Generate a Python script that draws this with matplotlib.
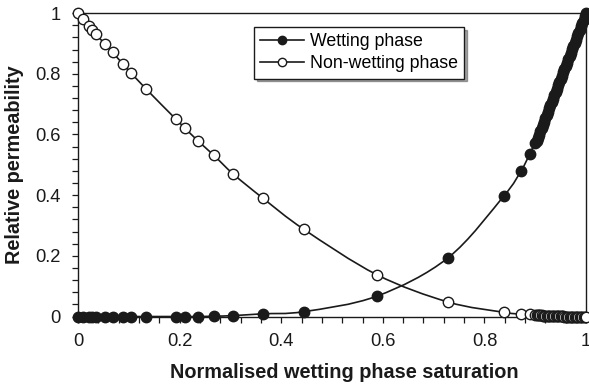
import matplotlib.pyplot as plt
from matplotlib.path import Path
from matplotlib.patches import PathPatch
from matplotlib.lines import Line2D
from matplotlib.ticker import MultipleLocator

plt.rcParams['font.family'] = ['Liberation Sans', 'DejaVu Sans']

# normalised wetting phase saturation (shared by both series)
sat = [0.0, 0.0105, 0.022, 0.028, 0.035, 0.053, 0.068, 0.089, 0.104, 0.134,
       0.193, 0.21, 0.236, 0.267, 0.306, 0.364, 0.444, 0.588, 0.728, 0.838,
       0.872, 0.889, 0.899,
       0.9025, 0.905, 0.9075, 0.91, 0.9125, 0.915, 0.9175, 0.92, 0.9225, 0.925,
       0.9275, 0.93, 0.9325, 0.935, 0.9375, 0.94, 0.9425, 0.945, 0.9475, 0.95,
       0.9525, 0.955, 0.9575, 0.96, 0.9625, 0.965, 0.9675, 0.97, 0.9725, 0.975,
       0.9775, 0.98, 0.9825, 0.985, 0.9875, 0.99, 0.9925, 0.995, 0.9975, 1.0]

kr_wet = [0.0, 0.0, 0.0, 0.0, 0.0, 0.0, 0.0, 0.0, 0.0, 0.0,
          0.0, 0.0, 0.0, 0.001, 0.003, 0.009, 0.016, 0.067, 0.193, 0.397,
          0.480, 0.535, 0.571,
          0.577, 0.588, 0.599, 0.610, 0.621, 0.632, 0.642, 0.653, 0.664, 0.675,
          0.686, 0.697, 0.707, 0.718, 0.729, 0.740, 0.751, 0.762, 0.772, 0.783,
          0.794, 0.805, 0.816, 0.826, 0.837, 0.848, 0.859, 0.870, 0.881, 0.891,
          0.902, 0.913, 0.924, 0.935, 0.946, 0.956, 0.967, 0.978, 0.989, 1.0]

kr_nonwet = [1.0, 0.98, 0.957, 0.944, 0.931, 0.898, 0.871, 0.831, 0.804, 0.75,
             0.65, 0.622, 0.579, 0.532, 0.469, 0.39, 0.288, 0.138, 0.048, 0.014,
             0.008, 0.007, 0.006,
             0.005, 0.005, 0.004, 0.004, 0.004, 0.003, 0.003, 0.003, 0.003, 0.002,
             0.002, 0.002, 0.002, 0.002, 0.001, 0.001, 0.001, 0.001, 0.001, 0.001,
             0.001, 0.001, 0.0, 0.0, 0.0, 0.0, 0.0, 0.0, 0.0, 0.0,
             0.0, 0.0, 0.0, 0.0, 0.0, 0.0, 0.0, 0.0, 0.0, 0.0]

ink = '#1a1a1a'


def smooth_path(xs, ys):
    # spreadsheet-style smoothed line: bezier segments through every point
    pts = list(zip(xs, ys))
    n = len(pts)
    verts = [pts[0]]
    codes = [Path.MOVETO]
    for i in range(n - 1):
        p0 = pts[max(i - 1, 0)]
        p1 = pts[i]
        p2 = pts[i + 1]
        p3 = pts[min(i + 2, n - 1)]
        c1 = (p1[0] + (p2[0] - p0[0]) / 6, p1[1] + (p2[1] - p0[1]) / 6)
        c2 = (p2[0] - (p3[0] - p1[0]) / 6, p2[1] - (p3[1] - p1[1]) / 6)
        verts += [c1, c2, p2]
        codes += [Path.CURVE4] * 3
    return Path(verts, codes)


fig = plt.figure(figsize=(5.89, 3.86), dpi=100)
ax = fig.add_axes([0.1324, 0.18, 0.8626, 0.786])

for ys in (kr_wet, kr_nonwet):
    ax.add_patch(PathPatch(smooth_path(sat, ys), facecolor='none',
                           edgecolor=ink, lw=1.2, zorder=2))

ax.plot(sat, kr_wet, linestyle='none', marker='o', ms=7.5, mfc=ink,
        mec=ink, mew=1.0, clip_on=False, zorder=3)
ax.plot(sat, kr_nonwet, linestyle='none', marker='o', ms=7.5, mfc='white',
        mec=ink, mew=1.0, clip_on=False, zorder=3)

ax.set_xlim(0, 1)
ax.set_ylim(0, 1)
ax.xaxis.set_major_locator(MultipleLocator(0.2))
ax.xaxis.set_minor_locator(MultipleLocator(0.04))
ax.yaxis.set_major_locator(MultipleLocator(0.2))
ax.yaxis.set_minor_locator(MultipleLocator(0.04))
ax.xaxis.set_major_formatter(plt.FuncFormatter(lambda v, p: '%g' % v))
ax.yaxis.set_major_formatter(plt.FuncFormatter(lambda v, p: '%g' % v))
ax.tick_params(which='both', direction='out', length=4, width=0.9,
               top=False, right=False, labelsize=13.2, colors=ink)
ax.tick_params(axis='x', pad=8)
ax.tick_params(axis='y', pad=8.5)
for s in ax.spines.values():
    s.set_linewidth(1.0)
    s.set_color(ink)

ax.set_xlabel('Normalised wetting phase saturation', fontsize=14.3,
              fontweight='bold', color=ink, va='center')
ax.set_ylabel('Relative permeability', fontsize=14.3, fontweight='bold',
              color=ink, va='center')
ax.xaxis.set_label_coords(0.524, -0.185)
ax.yaxis.set_label_coords(-0.124, 0.5)

handles = [
    Line2D([], [], color=ink, lw=1.2, marker='o', ms=6, mfc=ink, mec=ink),
    Line2D([], [], color=ink, lw=1.2, marker='o', ms=6, mfc='white', mec=ink),
]
leg = ax.legend(handles, ['Wetting phase', 'Non-wetting phase'],
                loc='upper left', bbox_to_anchor=(0.346, 0.955),
                fontsize=12.8, frameon=True, fancybox=False, shadow=True,
                handlelength=2.5, handletextpad=0.3, borderpad=0.35,
                labelspacing=0.3, borderaxespad=0)
leg.get_frame().set_edgecolor(ink)
leg.get_frame().set_linewidth(1.0)

fig.savefig('out.png', dpi=100)
